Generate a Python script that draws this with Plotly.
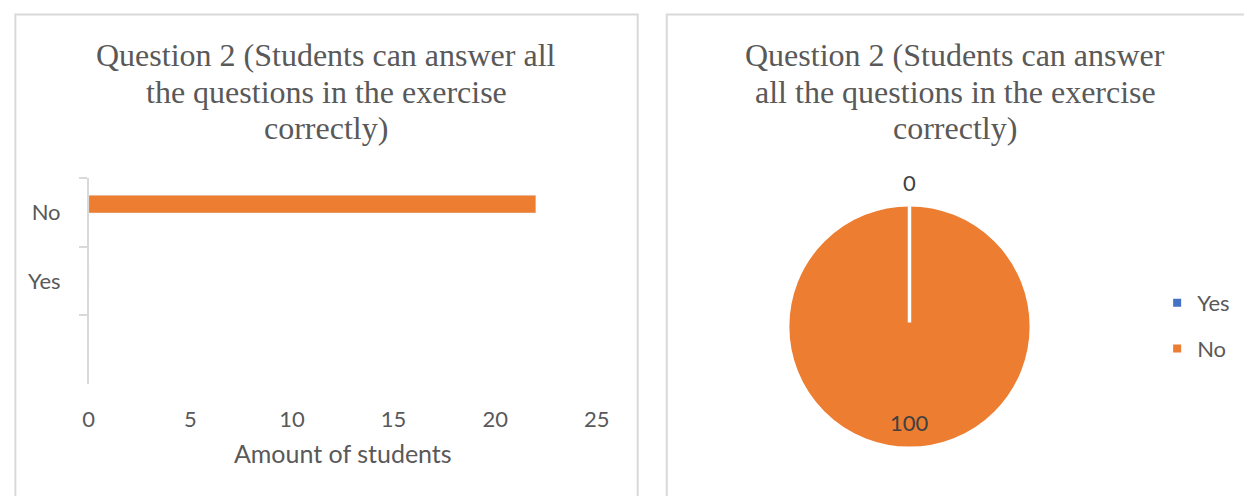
import math
import plotly.graph_objects as go

# ---- data ----
bar_categories = [" ", "Yes", "No"]
bar_values = [None, 0, 22]
pie_labels = ["Yes", "No"]
pie_values = [0, 100]
title_lines_left = ["Question 2 (Students can answer all", "the questions in the exercise", "correctly)"]
title_lines_right = ["Question 2 (Students can answer", "all the questions in the exercise", "correctly)"]
x_title = "Amount of students"
colors = {"Yes": "#4472C4", "No": "#ED7D31"}

W, H = 1244, 496
TXT = "#595959"
SANS = "Lato, Carlito, Calibri, sans-serif"
SERIF = "Liberation Serif, Times New Roman, serif"

# pie geometry (pixels)
PIE_CX, PIE_CY, PIE_R = 917.5, 326.5, 123.5


def px(x):
    return x / W


def py(y):
    return 1 - y / H


fig = go.Figure()

fig.add_trace(go.Bar(
    y=bar_categories, x=bar_values, orientation="h",
    marker=dict(color=colors["No"]), width=0.26, offset=-0.01,
    showlegend=False, hoverinfo="x+y",
))

fig.add_trace(go.Pie(
    labels=pie_labels, values=pie_values, sort=False, direction="clockwise", rotation=0,
    marker=dict(colors=[colors[l] for l in pie_labels], line=dict(color="white", width=3)),
    textinfo="none", showlegend=False,
    domain=dict(x=[px(PIE_CX - PIE_R), px(PIE_CX + PIE_R)], y=[py(PIE_CY + PIE_R), py(PIE_CY - PIE_R)]),
))

# legend entries
for lab in pie_labels:
    fig.add_trace(go.Scatter(
        x=[None], y=[None], mode="markers", name=lab, legendgroup=lab,
        marker=dict(symbol="square", size=8, color=colors[lab]),
    ))

shapes = [
    dict(type="rect", xref="paper", yref="paper", x0=px(9.5), x1=px(641.5), y0=-0.1, y1=py(14.5),
         line=dict(color="#d9d9d9", width=2), layer="below"),
    dict(type="rect", xref="paper", yref="paper", x0=px(671), x1=1.1, y0=-0.1, y1=py(14.5),
         line=dict(color="#d9d9d9", width=2), layer="below"),
]

# slice boundaries and value labels derived from the pie values
total = sum(pie_values)
cum = 0
annotations = []
for lab, v in zip(pie_labels, pie_values):
    start = cum / total * 2 * math.pi
    mid = (cum + v / 2) / total * 2 * math.pi
    cum += v
    if v == 0:
        shapes.append(dict(type="line", xref="paper", yref="paper",
                           x0=px(PIE_CX), y0=py(PIE_CY - 4),
                           x1=px(PIE_CX + PIE_R * math.sin(start)), y1=py(PIE_CY - PIE_R * math.cos(start)),
                           line=dict(color="white", width=3.5)))
        rr = PIE_R + 21
    else:
        rr = PIE_R * 0.775
    annotations.append(dict(text=str(v), x=px(PIE_CX + rr * math.sin(mid)), y=py(PIE_CY - rr * math.cos(mid)),
                            xref="paper", yref="paper", xanchor="center", yanchor="middle", showarrow=False,
                            font=dict(family=SANS, size=22, color="#404040")))

fig.update_layout(
    width=W, height=H, margin=dict(l=0, r=0, t=0, b=0),
    paper_bgcolor="white", plot_bgcolor="white",
    xaxis=dict(domain=[px(84), px(600)], range=[0, 25], dtick=5, showline=False, showgrid=False,
               zeroline=False, ticks="", tickfont=dict(family=SANS, size=22, color=TXT),
               ticklabelstandoff=20,
               title=dict(text=x_title, font=dict(family=SANS, size=25, color=TXT), standoff=14)),
    yaxis=dict(domain=[py(384), py(178)], type="category", categoryorder="array",
               categoryarray=bar_categories, range=[-0.5, 2.5], showline=True, linecolor="#d9d9d9",
               linewidth=1.5, ticks="outside", tickson="boundaries", ticklen=8, tickcolor="#d9d9d9",
               tickwidth=1.5, ticklabelstandoff=22, showgrid=False, zeroline=False,
               tickfont=dict(family=SANS, size=22, color=TXT)),
    legend=dict(x=px(1169), y=py(282), xanchor="left", yanchor="top", tracegroupgap=14,
                font=dict(family=SANS, size=22, color=TXT), bgcolor="rgba(0,0,0,0)"),
    shapes=shapes,
    annotations=annotations,
)

line_y = [55, 92, 128]
for lines, cx in ((title_lines_left, 325), (title_lines_right, 964)):
    for t, yy in zip(lines, line_y):
        fig.add_annotation(text=t, x=px(cx), y=py(yy), xref="paper", yref="paper",
                           xanchor="center", yanchor="middle", showarrow=False,
                           font=dict(family=SERIF, size=32, color=TXT))

fig.write_html("out.html", config={"displayModeBar": False},
               post_script="document.body.style.margin='0';document.body.style.overflow='hidden';")
